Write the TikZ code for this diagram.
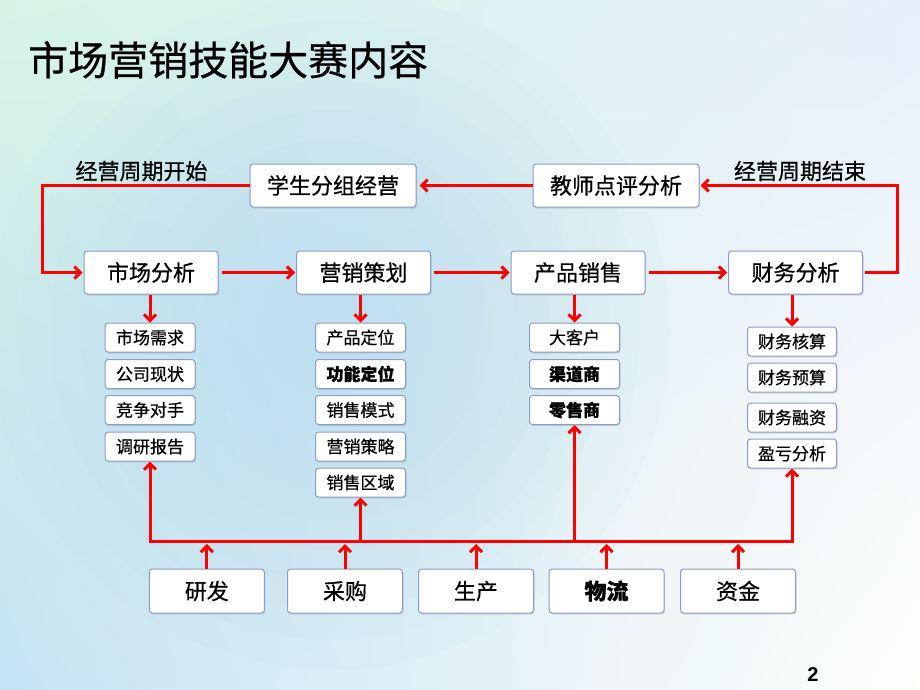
\documentclass[tikz,border=0pt]{standalone}
\usepackage{fontspec}
\setmainfont{Noto Sans CJK SC}[FakeBold=0.6]
\newfontfamily\numfont{Liberation Sans}
\usetikzlibrary{arrows.meta,shadows,shadings}
\definecolor{flow}{HTML}{FF0000}
\definecolor{boxline}{HTML}{8C9CC6}
\definecolor{bgUL}{HTML}{D6F4E6}
\definecolor{bgUR}{HTML}{E6EFFB}
\definecolor{bgLL}{HTML}{C4E3F3}
\definecolor{bgLR}{HTML}{FFFFFC}
\definecolor{bgBlue}{HTML}{A8D4F0}
\tikzset{
  fbig/.style={font=\fontsize{22}{22}\selectfont, text height=19.4pt, text depth=2.6pt},
  fsmall/.style={font=\fontsize{17}{17}\selectfont, text height=15pt, text depth=2pt},
  box/.style={draw=boxline, line width=1pt, fill=white, rounded corners=3pt, inner sep=0pt,
    drop shadow={shadow xshift=1pt, shadow yshift=-1.5pt, opacity=0.25}},
  mainbox/.style={box, fbig, minimum width=134pt, minimum height=43pt},
  subbox/.style={box, fsmall, minimum width=90pt, minimum height=29pt},
  botbox/.style={box, fbig, minimum width=115pt, minimum height=44pt},
  flowline/.style={draw=flow, line width=3pt},
  arr/.style={flowline, -{Straight Barb[length=6pt,width=12pt]}},
}
\begin{document}
\begin{tikzpicture}[x=1pt,y=-1pt]
\useasboundingbox (0,0) rectangle (920,690);
\shade[upper left=bgUL, upper right=bgUR, lower left=bgLL, lower right=bgLR] (0,0) rectangle (920,690);
\begin{scope}
\clip (0,0) rectangle (920,690);
\foreach \r in {340,310,...,40} {\fill[bgBlue, opacity=0.06] (330,330) circle (\r pt);}
\foreach \r in {260,235,...,35} {\fill[white, opacity=0.07] (770,610) circle (\r pt);}
\end{scope}

\node[anchor=west, inner sep=0pt, font=\fontsize{40}{40}\selectfont, text height=35.2pt, text depth=4.8pt] (title) at (28,60) {市场营销技能大赛内容};

% top row
\node[mainbox, minimum width=166pt] (xs) at (333,185.5) {学生分组经营};
\node[mainbox, minimum width=166pt] (js) at (616,185.5) {教师点评分析};
\node[fbig, inner sep=0pt] (lstart) at (141.5,171) {经营周期开始};
\node[fbig, inner sep=0pt] (lend) at (800,171) {经营周期结束};

% main row
\node[mainbox] (sc) at (151,272.5) {市场分析};
\node[mainbox] (yx) at (363.5,272.5) {营销策划};
\node[mainbox] (cp) at (578,272.5) {产品销售};
\node[mainbox] (cw) at (795.5,272.5) {财务分析};

% sub boxes
\node[subbox] (s11) at (150,337.5) {市场需求};
\node[subbox] (s12) at (150,374) {公司现状};
\node[subbox] (s13) at (150,410) {竞争对手};
\node[subbox] (s14) at (150,446.5) {调研报告};

\node[subbox] (s21) at (360.5,337.5) {产品定位};
\node[subbox] (s22) at (360.5,374) {\bfseries 功能定位};
\node[subbox] (s23) at (360.5,410) {销售模式};
\node[subbox] (s24) at (360.5,446.5) {营销策略};
\node[subbox] (s25) at (360.5,482.5) {销售区域};

\node[subbox] (s31) at (574.5,337.5) {大客户};
\node[subbox] (s32) at (574.5,374) {\bfseries 渠道商};
\node[subbox] (s33) at (574.5,410) {\bfseries 零售商};

\node[subbox, minimum width=89pt] (s41) at (792,341.5) {财务核算};
\node[subbox, minimum width=89pt] (s42) at (792,377.5) {财务预算};
\node[subbox, minimum width=89pt] (s43) at (792,417.5) {财务融资};
\node[subbox, minimum width=89pt] (s44) at (792,453.5) {盈亏分析};

% bottom row
\node[botbox] (b1) at (206.8,591) {研发};
\node[botbox] (b2) at (345,591) {采购};
\node[botbox] (b3) at (476,591) {生产};
\node[botbox] (b4) at (606.5,591) {\bfseries 物流};
\node[botbox] (b5) at (738,591) {资金};

\node[font=\numfont\bfseries\fontsize{20}{20}\selectfont, inner sep=0pt] (pg) at (813,675) {2};

% helper coordinates
\coordinate (L) at (42,0);
\coordinate (R) at (897,0);
\coordinate (bus) at (0,541);

% connectors
\draw[arr, shorten >=3pt] (js.west) -- (xs.east);
\draw[arr, shorten >=1pt] (xs.west) -- (xs.west -| L) -- (sc.west -| L) -- (sc.west);
\draw[arr, shorten <=2pt, shorten >=1pt] (cw.east) -- (cw.east -| R) -- (js.east -| R) -- (js.east);
\draw[arr, shorten <=3pt, shorten >=1pt] (sc.east) -- (yx.west);
\draw[arr, shorten <=3pt, shorten >=1pt] (yx.east) -- (cp.west);
\draw[arr, shorten <=3pt, shorten >=1pt] (cp.east) -- (cw.west);

\draw[arr] (sc.south -| s11.north) -- (s11.north);
\draw[arr] (yx.south -| s21.north) -- (s21.north);
\draw[arr] (cp.south -| s31.north) -- (s31.north);
\draw[arr] (cw.south -| s41.north) -- (s41.north);

\draw[flowline, {Straight Barb[length=6pt,width=12pt]}-{Straight Barb[length=6pt,width=12pt]}]
  (s14.south) -- (s14.south |- bus) -- (s44.south |- bus) -- (s44.south);
\draw[arr] (s25.south |- bus) -- (s25.south);
\draw[arr] (s33.south |- bus) -- (s33.south);

\draw[arr, shorten >=3pt] (b1.north) -- (b1.north |- bus);
\draw[arr, shorten >=3pt] (b2.north) -- (b2.north |- bus);
\draw[arr, shorten >=3pt] (b3.north) -- (b3.north |- bus);
\draw[arr, shorten >=3pt] (b4.north) -- (b4.north |- bus);
\draw[arr, shorten >=3pt] (b5.north) -- (b5.north |- bus);
\end{tikzpicture}
\end{document}
